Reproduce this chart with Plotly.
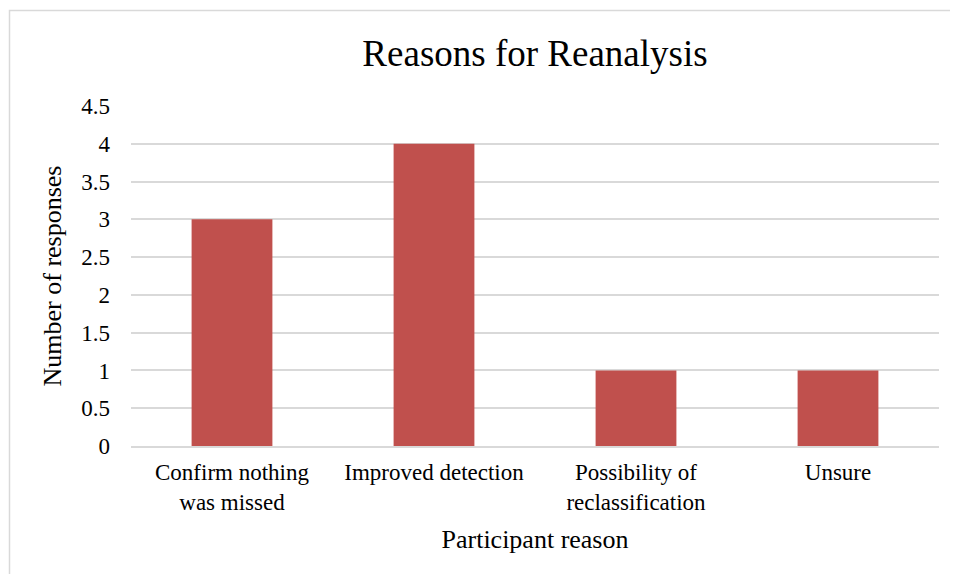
import plotly.graph_objects as go

categories = ["Confirm nothing<br>was missed", "Improved detection", "Possibility of<br>reclassification", "Unsure"]
responses = [3, 4, 1, 1]
y_ticks = [0, 0.5, 1, 1.5, 2, 2.5, 3, 3.5, 4, 4.5]
y_tick_labels = ["0", "0.5", "1", "1.5", "2", "2.5", "3", "3.5", "4", "4.5"]

FONT = "Liberation Serif, Times New Roman, serif"

fig = go.Figure(go.Bar(x=categories, y=responses, marker_color="#C0504D", marker_line_width=0))

# page body has an 8px offset; figure sized to fit inside the window
OFF = 8
W, H = 958 - OFF, 582 - 2 * OFF
L, R, T = 131 - OFF, 19, 106 - OFF
B = H - (446 - OFF)
pw, ph = W - L - R, H - T - B

def px_to_paper_x(px):
    return (px - OFF - L) / pw

def px_to_paper_y(py):
    return (H - B - (py - OFF)) / ph

bx0, bx1 = px_to_paper_x(9.5), px_to_paper_x(1000)
by0, by1 = px_to_paper_y(700), px_to_paper_y(10.5)

fig.update_layout(
    width=W, height=H,
    margin=dict(l=L, r=R, t=T, b=B, autoexpand=False),
    paper_bgcolor="white", plot_bgcolor="white",
    font=dict(family=FONT, size=24, color="#000000"),
    bargap=0.6,
    showlegend=False,
    title=dict(text="Reasons for Reanalysis", x=0.5, xref="paper", y=1 - (53 - OFF) / H, yanchor="middle",
               xanchor="center", font=dict(size=37, family=FONT, color="#000000")),
    xaxis=dict(
        showgrid=False, showline=True, linecolor="#d9d9d9", linewidth=1.5,
        ticks="", tickfont=dict(size=23), ticklabelstandoff=5,
        title=dict(text="Participant reason", font=dict(size=26), standoff=16),
        automargin=False,
    ),
    yaxis=dict(
        range=[0, 4.5], tickvals=y_ticks, ticktext=y_tick_labels,
        showgrid=True, gridcolor="#d9d9d9", gridwidth=1.5,
        zeroline=False, showline=False, ticks="",
        ticklabelstandoff=20, tickfont=dict(size=23),
        title=dict(text="Number of responses", font=dict(size=26), standoff=12),
        automargin=False,
    ),
    shapes=[dict(type="path", xref="paper", yref="paper",
                 path=f"M {bx0},{by0} L {bx0},{by1} L {bx1},{by1}",
                 line=dict(color="#d9d9d9", width=1.5), layer="below")],
)

fig.write_html("out.html")
